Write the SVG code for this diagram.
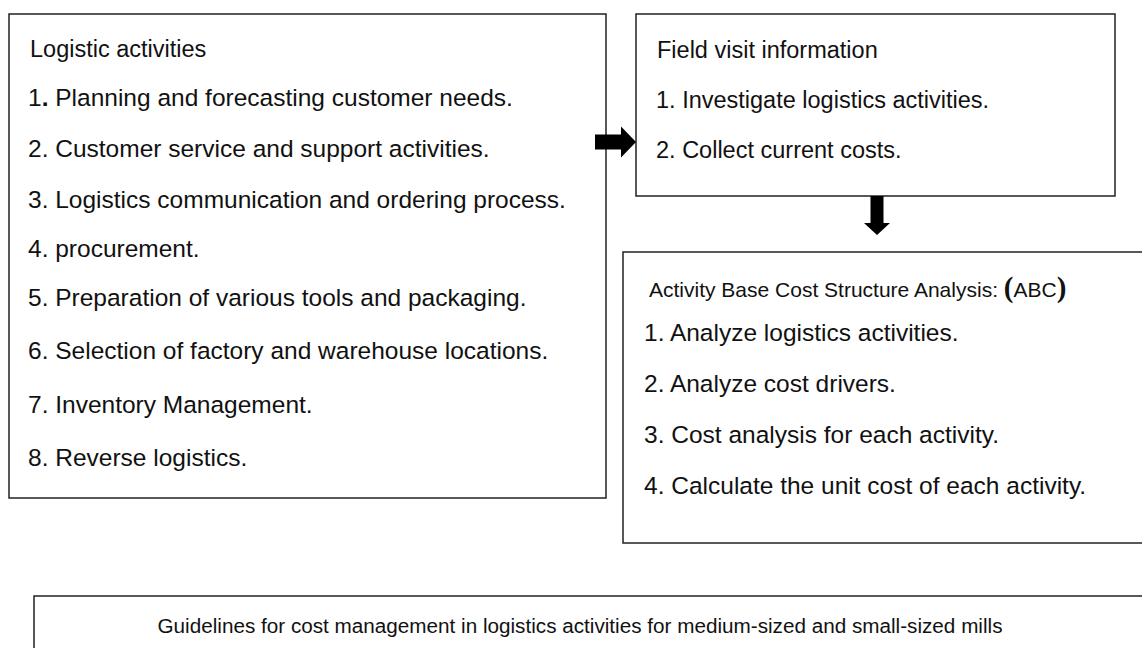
<svg xmlns="http://www.w3.org/2000/svg" width="1142" height="648" viewBox="0 0 1142 648">
<style>
.box{fill:#fff;stroke:#222;stroke-width:1.5}
.t{font-family:"Liberation Sans",Arial,sans-serif;fill:#111}
.title{font-size:23.5px}
.item{font-size:24.5px}
.fitem{font-size:23.5px}
.abct{font-size:21px}
.par{font-family:"Liberation Serif","Times New Roman",serif;font-weight:bold;font-size:29px}
.guide{font-size:20px}
.arrow{fill:#000}
</style>
<rect width="1142" height="648" fill="#fff"/>
<g id="logistic-activities">
<rect class="box" x="9" y="14" width="597" height="484"/>
<text class="t title" x="30" y="57">Logistic activities</text>
<text class="t item" x="28" y="106">1<tspan font-weight="bold">.</tspan> Planning and forecasting customer needs.</text>
<text class="t item" x="28" y="157">2. Customer service and support activities.</text>
<text class="t item" x="28" y="208">3. Logistics communication and ordering process.</text>
<text class="t item" x="28" y="257">4.  procurement.</text>
<text class="t item" x="28" y="306">5. Preparation of various tools and packaging.</text>
<text class="t item" x="28" y="359">6. Selection of factory and warehouse locations.</text>
<text class="t item" x="28" y="413">7. Inventory Management.</text>
<text class="t item" x="28" y="466">8. Reverse logistics.</text>
</g>
<g id="field-visit">
<rect class="box" x="636" y="14" width="479" height="182"/>
<text class="t title" x="657" y="58">Field visit information</text>
<text class="t fitem" x="656" y="108">1. Investigate logistics activities.</text>
<text class="t fitem" x="656" y="158">2. Collect current costs.</text>
</g>
<g id="abc-analysis">
<rect class="box" x="623" y="252" width="530" height="291"/>
<text class="t abct" x="649" y="297">Activity Base Cost Structure Analysis: <tspan class="par">(</tspan>ABC<tspan class="par">)</tspan></text>
<text class="t item" x="644" y="341">1. Analyze logistics activities.</text>
<text class="t item" x="644" y="392">2. Analyze cost drivers.</text>
<text class="t item" x="644" y="443">3. Cost analysis for each activity.</text>
<text class="t item" x="644" y="494">4. Calculate the unit cost of each activity.</text>
</g>
<g id="guidelines">
<rect class="box" x="34" y="596" width="1125" height="80"/>
<text class="t guide" x="580" y="633" text-anchor="middle" textLength="845" lengthAdjust="spacingAndGlyphs">Guidelines for cost management in logistics activities for medium-sized and small-sized mills</text>
</g>
<g id="connectors">
<polygon class="arrow" points="595,134.5 621,134.5 621,126.5 636,142 621,157.5 621,149.5 595,149.5"/>
<polygon class="arrow" points="870.5,196 883.5,196 883.5,223 890,223 877,235 864,223 870.5,223"/>
</g>
</svg>
